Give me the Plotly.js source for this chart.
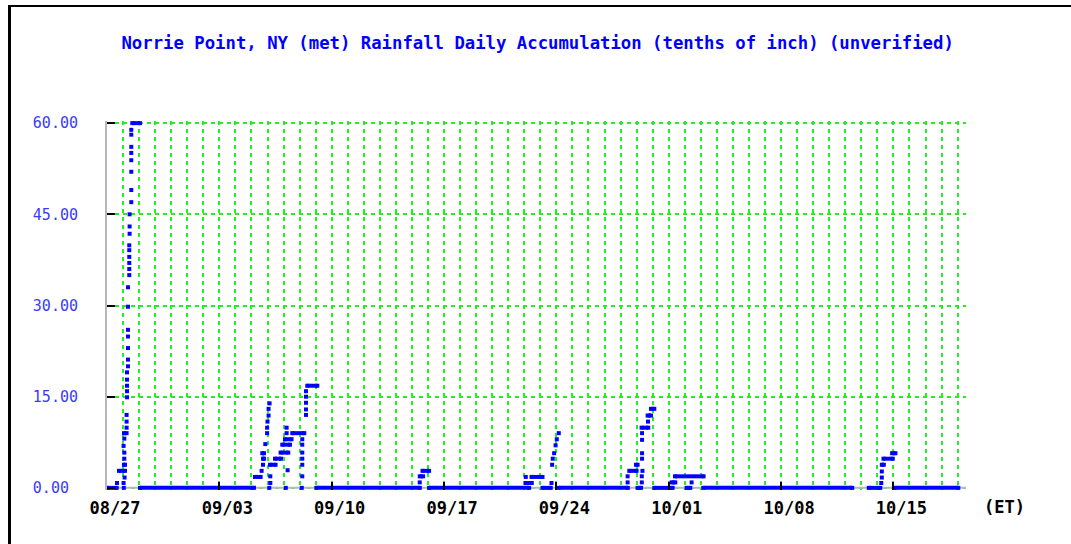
<!DOCTYPE html>
<html><head><meta charset="utf-8">
<script src="https://cdn.plot.ly/plotly-3.0.1.min.js"></script>
<style>
html,body{margin:0;padding:0;background:#fff;}
#chart{position:absolute;left:0;top:0;width:1071px;height:544px;}
#frame{position:absolute;left:8px;top:5px;right:0;bottom:0;border-left:3px solid #000;border-top:2px solid #000;pointer-events:none;}
</style></head><body>
<div id="chart"></div><div id="frame"></div>
<script>
const TITLE = 'Norrie Point, NY (met) Rainfall Daily Accumulation (tenths of inch) (unverified)';
const X_TICK_DATES = ['2011-08-27','2011-09-03','2011-09-10','2011-09-17','2011-09-24','2011-10-01','2011-10-08','2011-10-15'];
const X_TICK_LABELS = ['08/27','09/03','09/10','09/17','09/24','10/01','10/08','10/15'];
const Y_TICKS = [0, 15, 30, 45, 60];
const Y_TICK_LABELS = ['0.00\u00a0', '15.00', '30.00', '45.00', '60.00'];

// Runs of constant daily accumulation (hours since 08/27 00:00 ET)
const RUN_START_H = [0, 17.9, 25.4, 25.4, 37.8, 49.3, 221.3, 233.3, 232.2, 243.7,
  251.2, 259.6, 262.1, 266.2, 277.1, 299.5, 313.0, 467.7, 471.8, 481.6,
  626.2, 634.8, 651.2, 675.6, 781.0, 791.0, 793.4, 799.4, 808.4, 813.4,
  818.4, 844.3, 849.3, 866.7, 891.6, 1139.1, 1158.6, 1161.1, 1174.0, 1178.0];
const RUN_END_H = [14.4, 26.9, 26.9, 29.3, 49.3, 219.8, 229.7, 234.8, 234.8, 252.1,
  260.2, 271.1, 273.6, 276.0, 295.0, 314.5, 467.7, 472.7, 481.6, 631.2,
  635.2, 651.2, 663.6, 778.8, 791.9, 793.4, 798.5, 809.4, 813.4, 818.4,
  845.8, 849.8, 892.1, 872.2, 1114.4, 1156.3, 1161.6, 1175.0, 1179.0, 1273.0];
const RUN_VALUE = [0, 2.8, 3.8, 9.0, 60, 0, 1.8, 4.8, 5.7, 3.8,
  4.8, 5.8, 7.1, 8.0, 9.0, 16.8, 0, 1.9, 2.8, 0,
  0.8, 1.8, 0, 0, 2.8, 3.8, 0, 9.9, 11.9, 13.0,
  0, 0.9, 1.9, 0, 0, 0, 3.8, 4.8, 5.7, 0];

// Single observations (hours since 08/27 00:00 ET)
const OBS_H = [15.0, 25.1, 24.8, 26.3, 25.9, 25.9, 24.8, 25.9, 29.3, 29.3,
  29.3, 29.9, 29.9, 29.9, 29.9, 29.9, 31.4, 31.4, 31.4, 31.4,
  31.4, 31.4, 31.4, 33.3, 33.3, 33.3, 33.3, 33.3, 33.3, 33.8,
  33.8, 33.8, 36.3, 36.3, 36.3, 36.3, 36.3, 36.3, 36.3, 36.3,
  231.2, 233.3, 236.7, 239.4, 239.4, 240.0, 241.6, 241.6, 243.1, 242.7,
  244.2, 244.2, 267.4, 270.1, 268.6, 268.6, 291.3, 292.0, 292.0, 292.0,
  292.0, 292.0, 292.0, 297.6, 297.6, 297.6, 297.6, 297.6,
  467.7, 626.2, 664.7, 665.6, 666.6, 668.6, 670.8, 672.6, 675.6,
  778.5, 778.5, 799.7, 799.7, 800.7, 800.1, 800.1, 800.1, 800.1, 809.0, 874.2,
  1157.8, 1158.6, 1158.6];
const OBS_VALUE = [0.8, 0, 0.8, 1.7, 4.8, 5.8, 6.9, 8.1, 9.9, 10.9,
  12.0, 14.9, 15.9, 16.8, 17.8, 19.0, 20.0, 21.1, 23.0, 24.9,
  26.0, 29.8, 33.0, 35.0, 36.0, 37.0, 38.0, 39.1, 39.9, 41.8,
  43.0, 45.0, 47.0, 49.0, 52.0, 53.9, 55.1, 56.1, 58.1, 58.9,
  2.8, 3.8, 7.2, 9.0, 9.9, 10.9, 11.9, 13.0, 13.9, 0,
  0.8, 1.9, 0, 2.9, 9.0, 9.9, 0, 1.9, 3.8, 4.8,
  5.8, 7.1, 8.0, 12.0, 12.9, 14.0, 15.0, 15.9,
  0.9, 1.8, 0.8, 3.8, 4.8, 5.7, 7.0, 8.0, 9.0,
  0.9, 1.9, 0.9, 1.9, 2.8, 4.8, 5.7, 7.9, 9.0, 10.9, 0.9,
  0.8, 1.7, 2.7];

const T0 = Date.UTC(2011, 7, 27);
function toDate(h) {
  return new Date(T0 + Math.round(h * 3600000)).toISOString().slice(0, 19).replace('T', ' ');
}
const RANGE_END_H = 1284.5;

const runX = [], runY = [];
RUN_START_H.forEach((s, i) => {
  runX.push(toDate(s), toDate(RUN_END_H[i]), null);
  runY.push(RUN_VALUE[i], RUN_VALUE[i], null);
});

const BLUE = '#0000ff';
const GREEN = '#22ee22';
const MONO = 'DejaVu Sans Mono';

const traces = [
  {type: 'scatter', mode: 'lines+markers', x: runX, y: runY, connectgaps: false,
   line: {color: BLUE, width: 4}, marker: {symbol: 'square', size: 4, color: BLUE},
   cliponaxis: false, hoverinfo: 'skip'},
  {type: 'scatter', mode: 'markers', x: OBS_H.map(toDate), y: OBS_VALUE,
   marker: {symbol: 'square', size: 4, color: BLUE}, cliponaxis: false, hoverinfo: 'skip'}
];

const layout = {
  width: 1071, height: 544,
  margin: {l: 107, r: 105, t: 121, b: 54, pad: 0},
  paper_bgcolor: '#fff', plot_bgcolor: '#fff',
  showlegend: false,
  title: {text: TITLE, font: {family: MONO, size: 17.3, color: BLUE, weight: 'bold'},
          x: 0.502, xref: 'container', xanchor: 'center', y: 1 - 43 / 544, yref: 'container', yanchor: 'middle'},
  xaxis: {type: 'date', range: [toDate(0), toDate(RANGE_END_H)],
          tickmode: 'array', tickvals: X_TICK_DATES, ticktext: X_TICK_LABELS,
          ticks: 'inside', ticklen: 8, tickwidth: 2, tickcolor: '#000',
          showline: false, zeroline: false,
          showgrid: true, gridcolor: GREEN, griddash: '4px,4px', gridwidth: 2,
          minor: {dtick: 86400000, tick0: '2011-08-27', showgrid: true, gridcolor: GREEN,
                  griddash: '4px,4px', gridwidth: 2, ticks: ''},
          tickfont: {family: MONO, size: 17, color: '#000', weight: 'bold'},
          ticklabelshift: 8, ticklabelstandoff: 6, fixedrange: true},
  yaxis: {range: [-0.35, 60.35], tickmode: 'array', tickvals: Y_TICKS, ticktext: Y_TICK_LABELS,
          ticks: 'inside', ticklen: 8, tickwidth: 2, tickcolor: '#000',
          showline: true, linecolor: '#b8b8b8', linewidth: 2, zeroline: false,
          showgrid: true, gridcolor: GREEN, griddash: '4px,4px', gridwidth: 2,
          tickfont: {family: MONO, size: 15, color: '#3a3aff'},
          ticklabelstandoff: 24, fixedrange: true},
  shapes: [{type: 'line', xref: 'x', yref: 'y', x0: toDate(0), x1: toDate(RANGE_END_H), y0: 0, y1: 0,
            line: {color: '#b8b8b8', width: 2}, layer: 'between'}],
  annotations: [{text: '(ET)', xref: 'paper', yref: 'paper', x: (1005 - 107) / 859, y: (490 - 507) / 369,
                 xanchor: 'center', yanchor: 'middle', showarrow: false,
                 font: {family: MONO, size: 17, color: '#000', weight: 'bold'}}]
};

Plotly.newPlot('chart', traces, layout, {displayModeBar: false, staticPlot: true});
</script>
</body></html>
